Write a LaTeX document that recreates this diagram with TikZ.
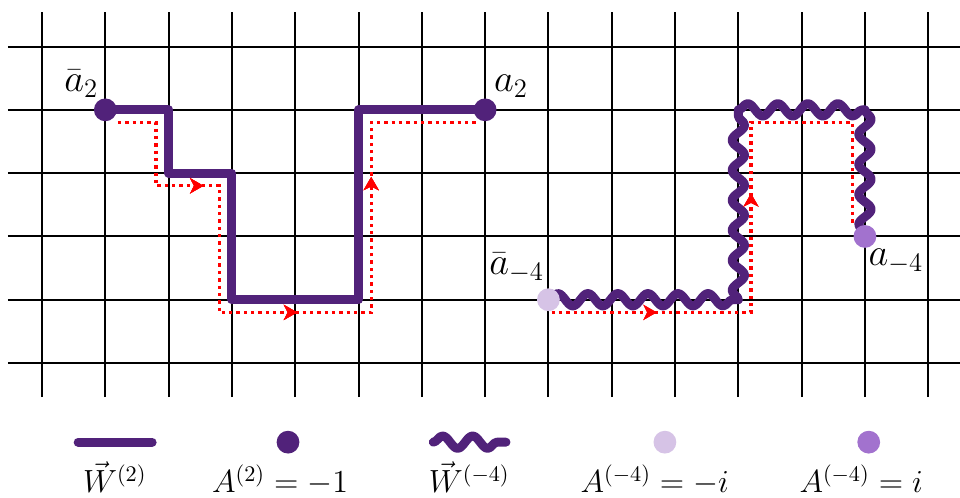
\documentclass[tikz,border=0pt]{standalone}
\usepackage{amsmath}
\usetikzlibrary{positioning,decorations.pathmorphing,decorations.markings,arrows.meta}

\definecolor{wpurple}{RGB}{81,34,122}
\definecolor{alight}{RGB}{214,195,230}
\definecolor{amid}{RGB}{162,114,206}

\tikzset{
  gridline/.style={line width=0.9pt},
  wline/.style={wpurple, line width=4pt, line join=round, line cap=round},
  wwave/.style={wline, decorate, decoration={snake, amplitude=2.8pt, segment length=13.5pt}},
  loopline/.style={red, line width=1.4pt, dash pattern=on 1.5pt off 1.8pt},
  enddot/.style={circle, minimum size=0.36cm, inner sep=0pt},
  lab/.style={font=\LARGE, inner sep=0pt},
  keylab/.style={font=\Large, inner sep=0pt, anchor=base},
  tipsat/.style={postaction={decorate}, decoration={markings,
    mark=at position #1 with {\arrow{Stealth[length=0.21cm,width=0.24cm,inset=0.06cm]}}}},
}

\begin{document}
\begin{tikzpicture}
\useasboundingbox (-0.664,-2.117) rectangle (14.502,5.735);

% lattice
\foreach \i in {0,...,14}
  \draw[gridline] (\i,-0.54) -- (\i,5.54);
\foreach \j in {0,...,5}
  \draw[gridline] (-0.54,\j) -- (14.54,\j);

\coordinate (abar2) at (1,4);
\coordinate (a2) at (7,4);
\coordinate (abarm4) at (8,1);
\coordinate (am4) at (13,2);

% charge 2 line
\draw[wline] (abar2) -- ++(1,0) -- ++(0,-1) -- ++(1,0) -- ++(0,-2)
  -- ++(2,0) -- ++(0,3) -- (a2);
\draw[loopline, tipsat=2.35cm, tipsat=5.83cm, tipsat=9.14cm]
  ([shift={(0.2,-0.2)}]abar2) -- ++(0.6,0) -- ++(0,-1) -- ++(1,0)
  -- ++(0,-2) -- ++(2.4,0) -- ++(0,3) -- ([shift={(-0.15,-0.2)}]a2);

% charge -4 line, one wavy piece per side
\coordinate (wc1) at (11,1);
\coordinate (wc2) at (11,4);
\coordinate (wc3) at (13,4);
\draw[wwave] (abarm4) -- (wc1);
\draw[wwave] (wc1) -- (wc2);
\draw[wwave] (wc2) -- (wc3);
\draw[wwave] (wc3) -- (am4);
\draw[loopline, tipsat=1.66cm, tipsat=5.03cm]
  ([shift={(0.05,-0.2)}]abarm4) -- ++(3.15,0) -- ++(0,3) -- ++(1.6,0) -- ++(0,-1.6);

% end points
\node[enddot, fill=wpurple] (abar2dot) at (abar2) {};
\node[enddot, fill=wpurple] (a2dot) at (a2) {};
\node[enddot, fill=alight] (abarm4dot) at (abarm4) {};
\node[enddot, fill=amid] (am4dot) at (am4) {};
\node[lab] (abar2lab) at ([shift={(-0.38,0.41)}]abar2) {$\bar{a}_2$};
\node[lab] (a2lab) at ([shift={(0.41,0.37)}]a2) {$a_2$};
\node[lab] (abarm4lab) at ([shift={(-0.5,0.5)}]abarm4) {$\bar{a}_{-4}$};
\node[lab] (am4lab) at ([shift={(0.49,-0.39)}]am4) {$a_{-4}$};

% legend
\coordinate (keyWa) at (0.57,-1.25);
\coordinate (keyWb) at (1.74,-1.25);
\coordinate (keyVa) at (6.18,-1.25);
\coordinate (keyVb) at (7.33,-1.25);
\draw[wline] (keyWa) -- (keyWb);
\draw[wwave] (keyVa) -- (keyVb);
\node[enddot, fill=wpurple] (keyA) at (3.886,-1.25) {};
\node[enddot, fill=alight] (keyB) at (9.84,-1.25) {};
\node[enddot, fill=amid] (keyC) at (13.06,-1.25) {};
\node[keylab] (keyWlab) at (1.15,-2.05) {$\vec{W}^{(2)}$};
\node[keylab] (keyAlab) at (3.76,-2.05) {$A^{(2)}=-1$};
\node[keylab] (keyVlab) at (6.75,-2.05) {$\vec{W}^{(-4)}$};
\node[keylab] (keyBlab) at (9.68,-2.05) {$A^{(-4)}=-i$};
\node[keylab] (keyClab) at (12.94,-2.05) {$A^{(-4)}=i$};
\end{tikzpicture}
\end{document}
